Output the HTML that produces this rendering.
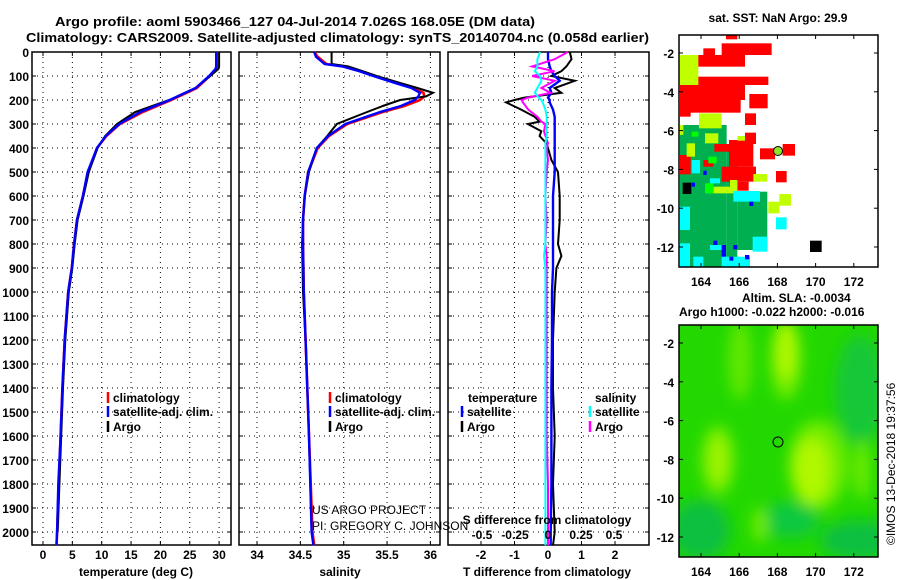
<!DOCTYPE html>
<html><head><meta charset="utf-8"><style>
html,body{margin:0;padding:0;background:#fff;}
svg{display:block;font-family:"Liberation Sans",sans-serif;}
.t{font-size:13px;font-weight:bold;}
.tk{font-size:12px;font-weight:bold;}
</style></head><body>
<svg id="fig" width="900" height="580" viewBox="0 0 900 580" xmlns="http://www.w3.org/2000/svg">
<defs><filter id="blur" x="-50%" y="-50%" width="200%" height="200%"><feGaussianBlur stdDeviation="7"/></filter>
<clipPath id="clipSLA"><rect x="679" y="325" width="199" height="232"/></clipPath>
<clipPath id="clipSST"><rect x="679" y="35" width="199" height="232"/></clipPath></defs>
<text class="t" x="55" y="26" textLength="480" lengthAdjust="spacingAndGlyphs">Argo profile: aoml 5903466_127 04-Jul-2014 7.026S 168.05E (DM data)</text>
<text class="t" x="26" y="42" textLength="623" lengthAdjust="spacingAndGlyphs">Climatology: CARS2009. Satellite-adjusted climatology: synTS_20140704.nc (0.058d earlier)</text>
<g id="panels"></g>
<g id="maps"></g>
</svg>
<script>
// ---- data ----
const depthT = [0,60,70,100,150,200,250,300,350,400,500,600,700,800,900,1000,1200,1400,1600,1800,2000,2055];
const tempClim = [29.6,29.6,29.5,28.4,26.2,21.8,17.0,13.1,10.8,9.2,7.7,6.8,5.8,5.3,4.9,4.3,3.7,3.3,3.0,2.7,2.4,2.3];
const tempSat  = [29.5,29.5,29.4,28.3,26.0,21.6,16.6,13.0,10.7,9.2,7.6,6.8,5.8,5.3,4.9,4.3,3.7,3.3,3.0,2.6,2.4,2.3];
const tempArgo = [30.0,30.0,29.9,28.5,26.0,21.5,15.7,12.6,10.6,9.3,7.8,6.9,5.9,5.4,5.0,4.4,3.8,3.4,3.1,2.8,2.5];
const depthArgo = [0,60,70,100,150,200,250,300,350,400,500,600,700,800,900,1000,1200,1400,1600,1800,2000];
const depthS = [0,20,50,60,80,100,130,150,170,185,200,225,250,300,350,400,500,600,700,800,1000,1200,1600,2000,2055];
const salClim = [34.66,34.70,34.80,35.0,35.2,35.36,35.62,35.80,35.92,35.93,35.88,35.70,35.45,35.04,34.83,34.70,34.59,34.55,34.53,34.53,34.54,34.56,34.60,34.64,34.66];
const salSat  = [34.66,34.68,34.78,34.98,35.18,35.34,35.60,35.78,35.88,35.86,35.82,35.66,35.42,35.02,34.82,34.69,34.59,34.55,34.53,34.53,34.54,34.56,34.60,34.63,34.65];
const salArgo = [34.86,34.86,34.86,35.05,35.22,35.38,35.66,35.85,36.03,35.95,35.65,35.45,35.27,34.92,34.81,34.69,34.60,34.55,34.53,34.52,34.53,34.56,34.60,34.63];
const depthD = [0,30,60,80,100,120,150,170,190,200,210,240,270,290,300,330,350,380,400,450,500,600,700,800,850,900,1000,1200,1400,1600,1800,2000,2055];
const dTsat  = [0,0,0.05,0.1,0.2,0.35,0.05,0.1,0,0.05,0.05,0.15,0.2,0.2,0.2,0.2,0.2,0.2,0.2,0.2,0.2,0.15,0.15,0.15,0.15,0.15,0.12,0.12,0.1,0.1,0.1,0.08,0.08];
const dTargo = [0.65,0.7,0.55,0.4,0.1,0.8,0.2,0.4,-0.7,-1.0,-1.25,-0.8,-0.4,-0.25,-0.6,-0.2,-0.25,-0.05,0,0.1,0.3,0.35,0.35,0.3,0.4,0.25,0.2,0.15,0.15,0.2,0.15,0.2,0.15];
const dSsat  = [-0.06,-0.08,-0.08,-0.1,-0.06,-0.05,-0.08,-0.1,-0.07,-0.05,-0.04,-0.02,-0.01,-0.01,-0.01,-0.01,-0.01,-0.02,-0.02,-0.02,-0.02,-0.02,-0.02,-0.02,-0.03,-0.02,-0.02,-0.02,-0.02,-0.02,-0.02,-0.02,-0.02];
const dSargo = [0.15,0.05,-0.12,0.05,-0.12,0.05,-0.05,0.02,-0.15,-0.2,-0.19,-0.15,-0.08,-0.05,-0.02,-0.03,-0.02,0,-0.01,0,-0.01,-0.02,-0.01,-0.02,-0.01,-0.01,-0.01,-0.01,-0.01,-0.01,0,0,0];
const depthTicks = [0,100,200,300,400,500,600,700,800,900,1000,1100,1200,1300,1400,1500,1600,1700,1800,1900,2000];
const tempTicks = [0,5,10,15,20,25,30];
const salTicks = [34,34.5,35,35.5,36];
const salTickLabels = ["34","34.5","35","35.5","36"];
const dTTicks = [-2,-1,0,1,2];
const dSTicks = [-0.5,-0.25,0,0.25,0.5];
const dSTickLabels = ["-0.5","-0.25","0","0.25","0.5"];
const lonTicks = [164,166,168,170,172];
const latTicks = [-2,-4,-6,-8,-10,-12];

const NS="http://www.w3.org/2000/svg";
function el(tag,attrs,parent,text){const e=document.createElementNS(NS,tag);for(const k in attrs)e.setAttribute(k,attrs[k]);if(text!==undefined)e.textContent=text;parent.appendChild(e);return e;}
const P=document.getElementById('panels');
const yTop=52, yBot=545;
const yD=d=>yTop+d*0.24;
const panels=[{x0:32,x1:231,fx:v=>43+v*5.87,name:'temperature'},{x0:239,x1:440,fx:v=>257+(v-34)*86.7,name:'salinity'},{x0:448,x1:649,fx:v=>548+v*33.5,name:'difference'}];
const fS=v=>548+v*132;

panels.forEach((p,i)=>{
  const g=el('g',{},P);
  
  
  depthTicks.forEach(d=>{const l=el('line',{x1:p.x0,x2:p.x1,y1:yD(d),y2:yD(d),stroke:'#000','stroke-width':1,'stroke-dasharray':'1,4'},g);
    
    el('line',{x1:p.x0,x2:p.x0+4,y1:yD(d),y2:yD(d),stroke:'#000'},g);el('line',{x1:p.x1-4,x2:p.x1,y1:yD(d),y2:yD(d),stroke:'#000'},g);});
  const xt=i==0?tempTicks:i==1?salTicks:dTTicks;
  xt.forEach((v,k)=>{const x=p.fx(v);el('line',{x1:x,x2:x,y1:yTop,y2:yBot,stroke:'#000','stroke-dasharray':'1,4'},g);
    el('line',{x1:x,x2:x,y1:yBot-4,y2:yBot,stroke:'#000'},g);el('line',{x1:x,x2:x,y1:yTop,y2:yTop+4,stroke:'#000'},g);
    const t=el('text',{x:x,y:559,'text-anchor':'middle',class:'tk'},g,i==1?salTickLabels[k]:String(v));
    });
  const fr=el('rect',{x:p.x0,y:yTop,width:p.x1-p.x0,height:yBot-yTop,fill:'none',stroke:'#000','stroke-width':1.5},g);
  
});
depthTicks.forEach(d=>{const t=el('text',{x:29,y:yD(d)+5,'text-anchor':'end',class:'tk'},P,String(d));
  });

function line(xs,ds,fx,color,name,w){const pts=xs.map((v,k)=>fx(v).toFixed(1)+','+yD(ds[k]).toFixed(1)).join(' ');
  const l=el('polyline',{points:pts,fill:'none',stroke:color,'stroke-width':w||2.2},P);
  }
line(tempClim,depthT,panels[0].fx,'#f00','temp-climatology-line',2.6);
line(tempArgo,depthArgo,panels[0].fx,'#000','temp-argo-line',2);
line(tempSat,depthT,panels[0].fx,'#00f','temp-satellite-line',2.4);
line(salClim,depthS,panels[1].fx,'#f00','sal-climatology-line',2.6);
line(salArgo,depthS,panels[1].fx,'#000','sal-argo-line',2);
line(salSat,depthS,panels[1].fx,'#00f','sal-satellite-line',2.4);
line(dTargo,depthD,panels[2].fx,'#000','tdiff-argo-line',2);
line(dTsat,depthD,panels[2].fx,'#00f','tdiff-satellite-line',2.4);
line(dSargo,depthD,fS,'#f0f','sdiff-argo-line',2);
line(dSsat,depthD,fS,'#0ff','sdiff-satellite-line',2);

dSTicks.forEach((v,k)=>{const t=el('text',{x:fS(v),y:539,'text-anchor':'middle',class:'tk'},P,dSTickLabels[k]);
  });
function txt(x,y,s,name,extra){const t=el('text',Object.assign({x:x,y:y,class:'tk'},extra||{}),P,s);return t;}
txt(547,524,'S difference from climatology','sdiff-axis-title',{'text-anchor':'middle'});
txt(136,576,'temperature (deg C)','temp-axis-title',{'text-anchor':'middle'});
txt(340,576,'salinity','sal-axis-title',{'text-anchor':'middle'});
txt(547,576,'T difference from climatology','tdiff-axis-title',{'text-anchor':'middle'});
txt(312,514,'US ARGO PROJECT','credit-project',{style:'font-weight:normal;font-size:12px'});
txt(312,530,'PI: GREGORY C. JOHNSON','credit-pi',{style:'font-weight:normal;font-size:12px'});
function leg(x,y,color,label,name){const m=el('line',{x1:x,x2:x,y1:y-10,y2:y+1,stroke:color,'stroke-width':2.5},P);
  
  txt(x+5,y,label,name);}
leg(108,402,'#f00','climatology','legend-climatology');
leg(108,416,'#00f','satellite-adj. clim.','legend-satellite-adj');
leg(108,431,'#000','Argo','legend-argo');
leg(330,402,'#f00','climatology','legend2-climatology');
leg(330,416,'#00f','satellite-adj. clim.','legend2-satellite-adj');
leg(330,431,'#000','Argo','legend2-argo');
txt(468,402,'temperature','legend3-temperature-header');
txt(595,402,'salinity','legend3-salinity-header');
leg(462,416,'#00f','satellite','legend3-t-satellite');
leg(462,431,'#000','Argo','legend3-t-argo');
leg(590,416,'#0ff','satellite','legend3-s-satellite');
leg(590,431,'#f0f','Argo','legend3-s-argo');

// ---- maps ----
const M=document.getElementById('maps');
const lonX=lon=>701+(lon-164)*19.1;
function mapAxes(y0,name){const latY=lat=>y0+18+(-2-lat)*19.4;
  latTicks.forEach(l=>{const y=latY(l);el('line',{x1:679,x2:683,y1:y,y2:y,stroke:'#000'},M);el('line',{x1:874,x2:878,y1:y,y2:y,stroke:'#000'},M);
    const t=el('text',{x:674,y:y+5,'text-anchor':'end',class:'tk'},M,String(l));});
  lonTicks.forEach(l=>{const x=lonX(l);el('line',{x1:x,x2:x,y1:y0,y2:y0+4,stroke:'#000'},M);el('line',{x1:x,x2:x,y1:y0+228,y2:y0+232,stroke:'#000'},M);
    const t=el('text',{x:x,y:y0+251,'text-anchor':'middle',class:'tk'},M,String(l));});
  const f=el('rect',{x:679,y:y0,width:199,height:232,fill:'none',stroke:'#000','stroke-width':1.5},M);}
const sstCells=[
['#00b050',90,375,230,800],['#00b050',262,575,352,750],['#00b050',230,450,262,800],
['#f00',228,104,262,118],['#f00',215,130,365,165],['#f00',160,145,195,165],['#f00',125,165,285,200],['#f00',90,230,355,255],['#f00',90,255,285,300],['#f00',90,295,272,338],['#f00',298,282,353,325],['#f00',90,330,122,350],['#f00',285,340,318,375],['#f00',285,398,318,432],['#f00',237,420,310,500],['#f00',193,432,237,455],['#f00',330,445,375,478],['#f00',398,432,435,467],['#f00',90,465,122,523],['#f00',215,500,318,545],['#f00',378,513,410,547],['#f00',262,545,296,572],['#f00',160,480,190,500],
['#c0ff00',90,165,145,255],['#c0ff00',147,340,215,385],['#c0ff00',165,400,205,430],['#c0ff00',262,408,285,422],['#c0ff00',355,605,388,640],['#c0ff00',388,582,423,617],['#c0ff00',240,540,262,580],['#c0ff00',310,522,352,545],['#c0ff00',110,430,135,470],['#c0ff00',190,560,240,580],['#c0ff00',90,375,100,405],
['#00ff00',165,550,190,580],['#00ff00',125,395,145,410],['#00ff00',175,470,200,490],
['#0ff',250,573,330,605],['#0ff',378,652,410,688],['#0ff',308,710,352,755],['#0ff',90,620,120,690],['#0ff',125,480,150,520],['#0ff',180,535,210,550],['#0ff',215,770,300,800],['#0ff',90,730,120,800],['#0ff',180,735,215,750],['#0ff',130,770,160,800],
['#00f',125,548,135,560],['#00f',160,512,170,525],['#00f',298,605,310,618],['#00f',190,722,202,735],['#00f',215,735,228,770],['#00f',250,735,262,748],['#00f',285,765,298,778],['#00f',238,770,250,782],
['#000',98,548,124,582],['#000',480,722,515,756]];
const sst=el('g',{'clip-path':'url(#clipSST)'},M);

sstCells.forEach(c=>{const r=el('rect',{x:650+c[1]/3,y:c[2]/3,width:(c[3]-c[1])/3,height:(c[4]-c[2])/3,fill:c[0]},sst);
  });
const ac=el('circle',{cx:778,cy:151,r:4.5,fill:'#90e030',stroke:'#000'},M);
mapAxes(35,'sst-map');
txt(778,22,'sat. SST: NaN Argo: 29.9','sst-map-title',{'text-anchor':'middle'});
const sla=el('g',{'clip-path':'url(#clipSLA)'},M);

el('rect',{x:679,y:325,width:199,height:232,fill:'#22d800'},sla);
const blobs=[['#10c040',700,530,30,30],['#10c040',860,540,40,20],['#18c838',860,390,25,55],['#10c840',790,520,30,18],
['#70ec00',786,360,16,40],['#b0f800',786,350,10,30],['#70ec00',818,465,30,45],['#b0f800',812,470,18,32],['#70ec00',718,460,17,35],['#a0f400',718,460,9,24],['#60e800',740,360,12,40],['#70ec00',760,525,8,18],['#70ec00',862,470,8,30]];
const bg=el('g',{filter:'url(#blur)'},sla);
blobs.forEach(b=>el('ellipse',{fill:b[0],cx:b[1],cy:b[2],rx:b[3],ry:b[4]},bg));
const ac2=el('circle',{cx:778,cy:442,r:5,fill:'none',stroke:'#000'},M);
mapAxes(325,'sla-map');
txt(742,302,'Altim. SLA: -0.0034','sla-title-1',{'text-anchor':'start'});
txt(679,316,'Argo h1000: -0.022 h2000: -0.016','sla-title-2');
txt(0,0,'©IMOS 13-Dec-2018 19:37:56','timestamp',{transform:'translate(895,545) rotate(-90)',style:'font-weight:normal;font-size:12px'});
</script>
</body></html>
